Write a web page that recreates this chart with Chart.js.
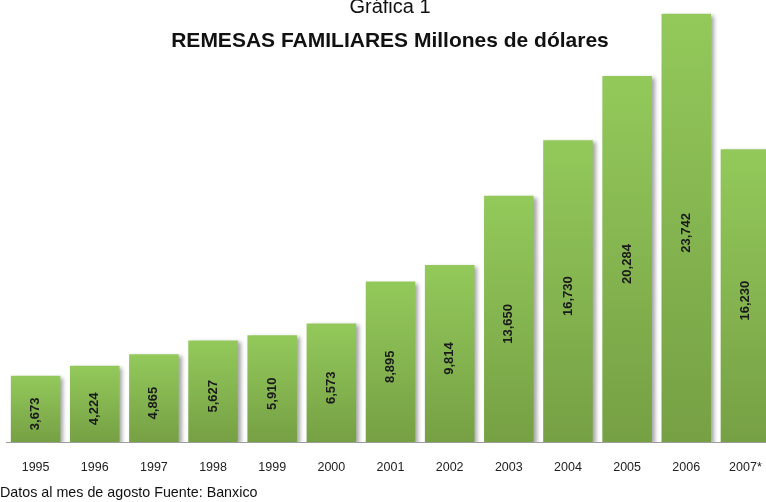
<!DOCTYPE html>
<html lang="es">
<head>
<meta charset="utf-8">
<title>Remesas familiares</title>
<script src="https://cdn.jsdelivr.net/npm/chart.js@4.4.1/dist/chart.umd.min.js"></script>
<style>
  html, body { margin: 0; padding: 0; background: #fff; overflow: hidden; }
  #wrap { position: relative; width: 766px; height: 502px; overflow: hidden; font-family: "Liberation Sans", Arial, sans-serif; color: #111; }
  #chart { position: absolute; left: 0; top: 0; }
  .t1 { position: absolute; left: 0; width: 780px; top: -4px; text-align: center; font-size: 20px; line-height: 20px; }
  .t2 { position: absolute; left: 0; width: 780px; top: 29px; text-align: center; font-size: 21px; line-height: 21px; font-weight: bold; }
  .note { position: absolute; left: 0; top: 485px; font-size: 14.3px; line-height: 14.3px; white-space: nowrap; }
</style>
</head>
<body>
<div id="wrap">
  <canvas id="chart" width="780" height="502"></canvas>
  <div class="t1">Gráfica 1</div>
  <div class="t2">REMESAS FAMILIARES Millones de dólares</div>
  <div class="note">Datos al mes de agosto Fuente: Banxico</div>
</div>
<script>
// Años y remesas familiares (millones de dólares)
const years = ['1995', '1996', '1997', '1998', '1999', '2000', '2001', '2002', '2003', '2004', '2005', '2006', '2007*'];
const remesas = [3673, 4224, 4865, 5627, 5910, 6573, 8895, 9814, 13650, 16730, 20284, 23742, 16230];
const yMax = 24000;

const fmt = v => v.toLocaleString('en-US');

// Degradado vertical propio de cada barra
function barGradient(ctx) {
  const chart = ctx.chart;
  if (!chart.chartArea || ctx.type !== 'data') return '#86B850';
  const ys = chart.scales.y;
  const top = ys.getPixelForValue(ctx.raw);
  const bottom = ys.getPixelForValue(0);
  const g = chart.ctx.createLinearGradient(0, top, 0, bottom);
  g.addColorStop(0, '#93C95B');
  g.addColorStop(1, '#76A044');
  return g;
}

// Sombra de las barras y etiquetas verticales con el valor
const barDecor = {
  id: 'barDecor',
  beforeDatasetsDraw(chart) {
    const c = chart.ctx;
    c.save();
    c.shadowColor = 'rgba(0,0,0,0.35)';
    c.shadowBlur = 4;
    c.shadowOffsetX = 3;
    c.shadowOffsetY = 2;
  },
  afterDatasetsDraw(chart) {
    const c = chart.ctx;
    c.restore();
    const meta = chart.getDatasetMeta(0);
    const data = chart.data.datasets[0].data;
    c.save();
    c.font = 'bold 13px "Liberation Sans", Arial, sans-serif';
    c.fillStyle = '#1a1a1a';
    c.textAlign = 'center';
    c.textBaseline = 'middle';
    meta.data.forEach((bar, i) => {
      const cy = (bar.y + bar.base) / 2 + 5;
      c.save();
      c.translate(bar.x, cy);
      c.rotate(-Math.PI / 2);
      c.fillText(fmt(data[i]), 0, 0);
      c.restore();
    });
    c.restore();
  }
};

new Chart(document.getElementById('chart'), {
  type: 'bar',
  data: {
    labels: years,
    datasets: [{
      data: remesas,
      backgroundColor: barGradient,
      borderWidth: 0,
      categoryPercentage: 1,
      barPercentage: 0.837
    }]
  },
  options: {
    responsive: false,
    animation: false,
    devicePixelRatio: 1,
    layout: { padding: { left: 6, right: 5, top: 9, bottom: 20 } },
    plugins: { legend: { display: false }, tooltip: { enabled: false }, title: { display: false } },
    scales: {
      y: { display: false, min: 0, max: yMax },
      x: {
        grid: { display: false },
        border: { display: true, color: '#9c9c9c', width: 1 },
        ticks: {
          padding: 10,
          color: '#222',
          font: { family: '"Liberation Sans", Arial, sans-serif', size: 12.5 }
        },
        afterFit(scale) { scale.height = 40; }
      }
    }
  },
  plugins: [barDecor]
});
</script>
</body>
</html>
